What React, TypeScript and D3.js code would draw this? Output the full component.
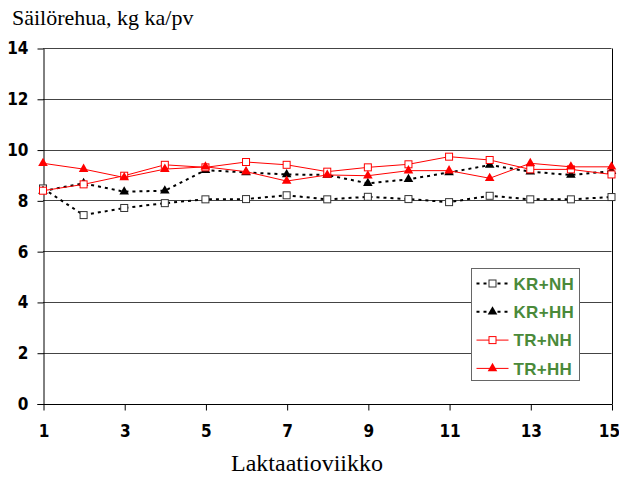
import React, { useEffect, useRef } from 'react';
import * as d3 from 'd3';

// Laktaatioviikot ja sarjat (kg ka/pv)
const weeks = [1, 2, 3, 4, 5, 6, 7, 8, 9, 10, 11, 12, 13, 14, 15];
const krNh = [8.47, 7.42, 7.7, 7.89, 8.04, 8.05, 8.2, 8.04, 8.14, 8.05, 7.93, 8.18, 8.04, 8.04, 8.13];
const krHh = [8.37, 8.67, 8.34, 8.38, 9.19, 9.1, 9.02, 9.0, 8.67, 8.83, 9.1, 9.39, 9.13, 9.0, 9.15];
const trNh = [8.38, 8.63, 8.97, 9.4, 9.3, 9.51, 9.4, 9.13, 9.3, 9.42, 9.72, 9.59, 9.22, 9.22, 9.02];
const trHh = [9.46, 9.23, 8.9, 9.23, 9.32, 9.13, 8.76, 9.0, 8.97, 9.17, 9.17, 8.87, 9.46, 9.32, 9.32];
const yTicks = [0, 2, 4, 6, 8, 10, 12, 14];
const xTicks = [1, 3, 5, 7, 9, 11, 13, 15];

interface Series {
  name: string;
  values: number[];
  color: string;
  dashed: boolean;
  marker: 'square' | 'triangle';
}

const series: Series[] = [
  { name: 'KR+NH', values: krNh, color: '#000', dashed: true, marker: 'square' },
  { name: 'KR+HH', values: krHh, color: '#000', dashed: true, marker: 'triangle' },
  { name: 'TR+NH', values: trNh, color: '#ff0000', dashed: false, marker: 'square' },
  { name: 'TR+HH', values: trHh, color: '#ff0000', dashed: false, marker: 'triangle' }
];

const tickFont = '"Liberation Sans Narrow", "DejaVu Sans Condensed", "Liberation Sans", Arial, sans-serif';

const App: React.FC = () => {
  const svgRef = useRef<SVGSVGElement | null>(null);

  useEffect(() => {
    if (!svgRef.current) return;
    const svg = d3.select(svgRef.current);
    svg.selectAll('*').remove();

    const x = d3.scaleLinear().domain([1, 15]).range([43, 611.5]);
    const y = d3.scaleLinear().domain([0, 14]).range([403.5, 48]);

    // gridlines
    svg
      .append('g')
      .selectAll('line')
      .data(yTicks.filter((t) => t > 0))
      .join('line')
      .attr('x1', x(1))
      .attr('x2', x(15))
      .attr('y1', (d) => Math.round(y(d)) + 0.5)
      .attr('y2', (d) => Math.round(y(d)) + 0.5)
      .attr('stroke', '#444')
      .attr('stroke-width', 1);

    // right border
    svg
      .append('line')
      .attr('x1', Math.round(x(15)) + 0.5)
      .attr('x2', Math.round(x(15)) + 0.5)
      .attr('y1', Math.round(y(14)) + 0.5)
      .attr('y2', Math.round(y(0)) + 0.5)
      .attr('stroke', '#000');

    // y axis
    const yAxis = d3
      .axisLeft(y)
      .tickValues(yTicks)
      .tickSize(6)
      .tickPadding(9)
      .tickSizeOuter(0);
    const gy = svg
      .append('g')
      .attr('transform', `translate(${Math.round(x(1)) + 0.5},0.5)`)
      .call(yAxis);
    gy.select('.domain').attr('stroke', '#000');
    gy.selectAll('text')
      .attr('font-family', tickFont)
      .attr('font-weight', 'bold')
      .attr('font-size', 17)
      .attr('fill', '#000');

    // x axis
    const xAxis = d3
      .axisBottom(x)
      .tickValues(xTicks)
      .tickFormat(d3.format('d'))
      .tickSize(6)
      .tickPadding(14)
      .tickSizeOuter(0);
    const gx = svg
      .append('g')
      .attr('transform', `translate(0.5,${Math.round(y(0)) + 0.5})`)
      .call(xAxis);
    gx.select('.domain').attr('stroke', '#000').attr('d', `M${x(1) - 6},0H${x(15)}`);
    gx.selectAll<SVGTextElement, number>('text')
      .attr('font-family', tickFont)
      .attr('font-weight', 'bold')
      .attr('font-size', 17)
      .attr('fill', '#000')
      .attr('dx', (d) => (d === 15 ? -3 : 0));

    const line = d3
      .line<number>()
      .x((_, i) => x(weeks[i]))
      .y((d) => y(d));

    const tri = d3.symbol().type(d3.symbolTriangle).size(40);

    const drawMarker = (
      g: d3.Selection<SVGGElement, unknown, null, undefined>,
      s: Series,
      cx: number,
      cy: number
    ) => {
      if (s.marker === 'square') {
        g.append('rect')
          .attr('x', cx - 3.5)
          .attr('y', cy - 3.5)
          .attr('width', 7)
          .attr('height', 7)
          .attr('fill', '#fff')
          .attr('stroke', s.color === '#000' ? '#333' : s.color)
          .attr('stroke-width', 1);
      } else {
        g.append('path')
          .attr('d', tri()!)
          .attr('transform', `translate(${cx},${cy})`)
          .attr('fill', s.color);
      }
    };

    series.forEach((s) => {
      const g = svg.append('g');
      g.append('path')
        .datum(s.values)
        .attr('fill', 'none')
        .attr('stroke', s.color)
        .attr('stroke-width', s.dashed ? 2 : 1)
        .attr('stroke-dasharray', s.dashed ? '3,4' : null)
        .attr('d', line);
      s.values.forEach((v, i) => drawMarker(g as any, s, x(weeks[i]), y(v)));
    });

    // legend
    const lg = svg.append('g').attr('transform', 'translate(471.5,268.5)');
    lg.append('rect')
      .attr('width', 108)
      .attr('height', 112)
      .attr('fill', '#fff')
      .attr('stroke', '#666')
      .attr('stroke-width', 1);
    series.forEach((s, i) => {
      const cy = 15 + i * 28.3;
      const row = lg.append('g');
      row
        .append('line')
        .attr('x1', 5)
        .attr('x2', 37)
        .attr('y1', cy)
        .attr('y2', cy)
        .attr('stroke', s.color)
        .attr('stroke-width', s.dashed ? 2 : 1)
        .attr('stroke-dasharray', s.dashed ? '3,4' : null);
      drawMarker(row as any, s, 21, cy);
      row
        .append('text')
        .attr('x', 42)
        .attr('y', cy)
        .attr('dy', '0.36em')
        .attr('font-family', '"Liberation Sans", Arial, sans-serif')
        .attr('font-weight', 'bold')
        .attr('font-size', 17)
        .attr('letter-spacing', 0.3)
        .attr('fill', '#4a8a3a')
        .text(s.name);
    });

    // titles
    svg
      .append('text')
      .attr('x', 12)
      .attr('y', 25)
      .attr('font-family', '"Liberation Serif", "Times New Roman", serif')
      .attr('font-size', 22)
      .attr('fill', '#000')
      .text('Säilörehua, kg ka/pv');

    svg
      .append('text')
      .attr('x', 307)
      .attr('y', 471)
      .attr('text-anchor', 'middle')
      .attr('font-family', '"Liberation Serif", "Times New Roman", serif')
      .attr('font-size', 24)
      .attr('fill', '#000')
      .text('Laktaatioviikko');
  }, []);

  return (
    <svg
      ref={svgRef}
      width={619}
      height={477}
      style={{ position: 'absolute', left: 0, top: 0, background: '#fff' }}
    />
  );
};

export default App;
